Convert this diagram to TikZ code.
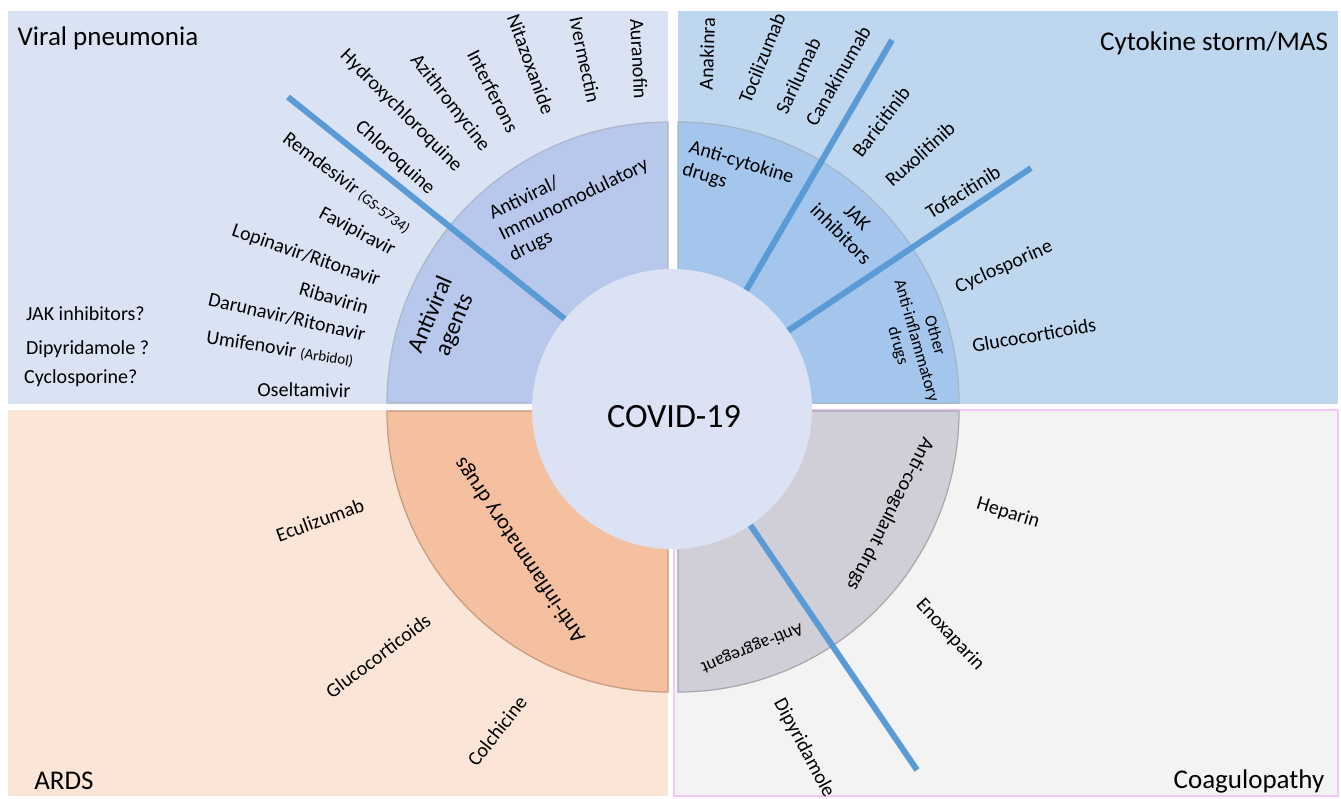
\documentclass[tikz,border=0pt]{standalone}
\usepackage{fontspec}
\setmainfont{Carlito}
\usepackage{tikz}
\usetikzlibrary{arrows,backgrounds}
\usepackage{xcolor}
\definecolor{vpback}{RGB}{218,227,243}
\definecolor{vpwedge}{RGB}{183,200,236}
\definecolor{csback}{RGB}{190,215,238}
\definecolor{cswedge}{RGB}{165,198,236}
\definecolor{ardsback}{RGB}{251,229,214}
\definecolor{ardswedge}{RGB}{245,192,160}
\definecolor{coagback}{RGB}{243,243,243}
\definecolor{coagwedge}{RGB}{208,207,216}
\definecolor{coagframe}{RGB}{246,200,246}
\definecolor{covidfill}{RGB}{218,226,243}
\definecolor{sepblue}{RGB}{91,155,213}
\tikzstyle{viralshading}=[fill=vpback]
\tikzstyle{cytoshading}=[fill=csback]
\tikzstyle{ardsshading}=[fill=ardsback]
\tikzstyle{coagshading}=[fill=coagback,draw=coagframe,line width=1.2pt]
\tikzstyle{viralwedge}=[fill=vpwedge,draw=vpwedge!75!black!70,line width=1.2pt]
\tikzstyle{cytowedge}=[fill=cswedge,draw=cswedge!75!black!70,line width=1.2pt]
\tikzstyle{ardswedge}=[fill=ardswedge,draw=ardswedge!80!black,line width=1.2pt]
\tikzstyle{coagwedge}=[fill=coagwedge,draw=coagwedge!80!black,line width=1.2pt]
\tikzstyle{covidcircle}=[circle,fill=covidfill,minimum size=280pt,inner sep=0pt]
\tikzstyle{sepline}=[line width=6pt,sepblue]
\tikzstyle{drug}=[font=\fontsize{20}{24}\selectfont,inner sep=0pt]
\tikzstyle{grouplabel}=[font=\fontsize{20}{23}\selectfont,inner sep=0pt]
\tikzstyle{quadtitle}=[font=\fontsize{27}{32}\selectfont,inner sep=0pt]

\begin{document}
\begin{tikzpicture}[x=1pt,y=-1pt]
	\useasboundingbox (0,0) rectangle (1341,798);
	\fill[viralshading] (8,11) rectangle (668,404);
	\fill[cytoshading] (678,11) rectangle (1338,404);
	\fill[ardsshading] (8,410) rectangle (668,796);
	\filldraw[coagshading] (674,410) rectangle (1338,796);
	\filldraw[viralwedge] (668,403) -- (387,403) arc[start angle=180,end angle=270,radius=281] -- cycle;
	\filldraw[cytowedge] (678,403) -- (959,403) arc[start angle=0,end angle=-90,radius=281] -- cycle;
	\filldraw[ardswedge] (668,411) -- (387,411) arc[start angle=180,end angle=90,radius=281] -- cycle;
	\filldraw[coagwedge] (678,411) -- (959,411) arc[start angle=0,end angle=90,radius=281] -- cycle;
	\node[covidcircle] (covid) at (672,409) {};
	\node[font=\fontsize{34}{40}\selectfont] (covidlabel) at (674,417) {COVID-19};

	\coordinate (viralsep) at (288,97);
	\coordinate (cytosep) at (892,40);
	\coordinate (jaksep) at (1031,168);
	\coordinate (coagsep) at (917,770);
	\draw[sepline] (covid.140) -- (viralsep);
	\draw[sepline] (covid.58) -- (cytosep);
	\draw[sepline] (covid.34) -- (jaksep);
	\draw[sepline] (covid.304) -- (coagsep);

	\node[quadtitle] (viraltitle) at (108,38) {Viral pneumonia};
	\node[quadtitle] (cytotitle) at (1214,43) {Cytokine storm/MAS};
	\node[quadtitle] (ardstitle) at (64,781) {ARDS};
	\node[quadtitle] (coagtitle) at (1249,781) {Coagulopathy};

	\node[drug,rotate=-87] (auranofin) at (639,59) {Auranofin};
	\node[drug,rotate=-78] (ivermectin) at (585,60) {Ivermectin};
	\node[drug,rotate=-70] (nitazoxanide) at (531,64) {Nitazoxanide};
	\node[drug,rotate=-63] (interferons) at (493,91) {Interferons};
	\node[drug,rotate=-52] (azithromycine) at (450,103) {Azithromycine};
	\node[drug,rotate=-45] (hydroxychloroquine) at (401,111) {Hydroxychloroquine};
	\node[drug,rotate=-42] (chloroquine) at (395,158) {Chloroquine};
	\node[drug,rotate=-37] (remdesivir) at (347,183) {Remdesivir {\fontsize{15}{18}\selectfont (GS-5734)}};
	\node[drug,rotate=-28] (favipiravir) at (357,232) {Favipiravir};
	\node[drug,rotate=-19] (lopinavir) at (306,256) {Lopinavir/Ritonavir};
	\node[drug,rotate=-16] (ribavirin) at (334,298) {Ribavirin};
	\node[drug,rotate=-13] (darunavir) at (287,317) {Darunavir/Ritonavir};
	\node[drug,rotate=-9] (umifenovir) at (280,349) {Umifenovir {\fontsize{15}{18}\selectfont (Arbidol)}};
	\node[drug,rotate=-1] (oseltamivir) at (304,390) {Oseltamivir};
	\node[drug,anchor=west] (jakquery) at (26,314) {JAK inhibitors?};
	\node[drug,anchor=west] (dipyquery) at (26,349) {Dipyridamole ?};
	\node[drug,anchor=west] (cycloquery) at (24,378) {Cyclosporine?};
	\node[grouplabel,rotate=26,align=left] (immunodrugs) at (574,200) {Antiviral/\\Immunomodulatory\\drugs};
	\node[grouplabel,font=\fontsize{24}{26}\selectfont,rotate=67,align=center] (antiviral) at (443,320) {Antiviral\\agents};

	\node[drug,rotate=88] (anakinra) at (707,54) {Anakinra};
	\node[drug,rotate=68] (tocilizumab) at (762,58) {Tocilizumab};
	\node[drug,rotate=65] (sarilumab) at (798,76) {Sarilumab};
	\node[drug,rotate=60] (canakinumab) at (838,76) {Canakinumab};
	\node[drug,rotate=53] (baricitinib) at (881,122) {Baricitinib};
	\node[drug,rotate=42] (ruxolitinib) at (920,154) {Ruxolitinib};
	\node[drug,rotate=32] (tofacitinib) at (963,192) {Tofacitinib};
	\node[drug,rotate=24] (cyclosporine) at (1004,267) {Cyclosporine};
	\node[drug,rotate=10] (glucomas) at (1034,335) {Glucocorticoids};
	\node[grouplabel,rotate=-17,align=left] (anticytokine) at (738,174) {Anti-cytokine\\drugs};
	\node[grouplabel,rotate=-45,align=center] (jakinhib) at (849,226) {JAK\\inhibitors};
	\node[grouplabel,font=\fontsize{17}{19}\selectfont,rotate=-74,align=center] (otherinflam) at (916,341) {Other\\Anti-inflammatory\\drugs};

	\node[drug,rotate=20] (eculizumab) at (320,520) {Eculizumab};
	\node[drug,rotate=37] (glucoards) at (378,656) {Glucocorticoids};
	\node[drug,rotate=52] (colchicine) at (497,731) {Colchicine};
	\node[grouplabel,font=\fontsize{22}{24}\selectfont,rotate=124] (antiinflam) at (520,550) {Anti-inflammatory drugs};

	\node[drug,rotate=-17] (heparin) at (1008,513) {Heparin};
	\node[drug,rotate=-47] (enoxaparin) at (950,635) {Enoxaparin};
	\node[drug,rotate=-62] (dipyridamole) at (804,748) {Dipyridamole};
	\node[grouplabel,rotate=-117] (anticoag) at (890,514) {Anti-coagulant drugs};
	\node[grouplabel,font=\fontsize{18}{20}\selectfont,rotate=-158] (antiaggr) at (752,648) {Anti-aggregant};
\end{tikzpicture}
\end{document}
